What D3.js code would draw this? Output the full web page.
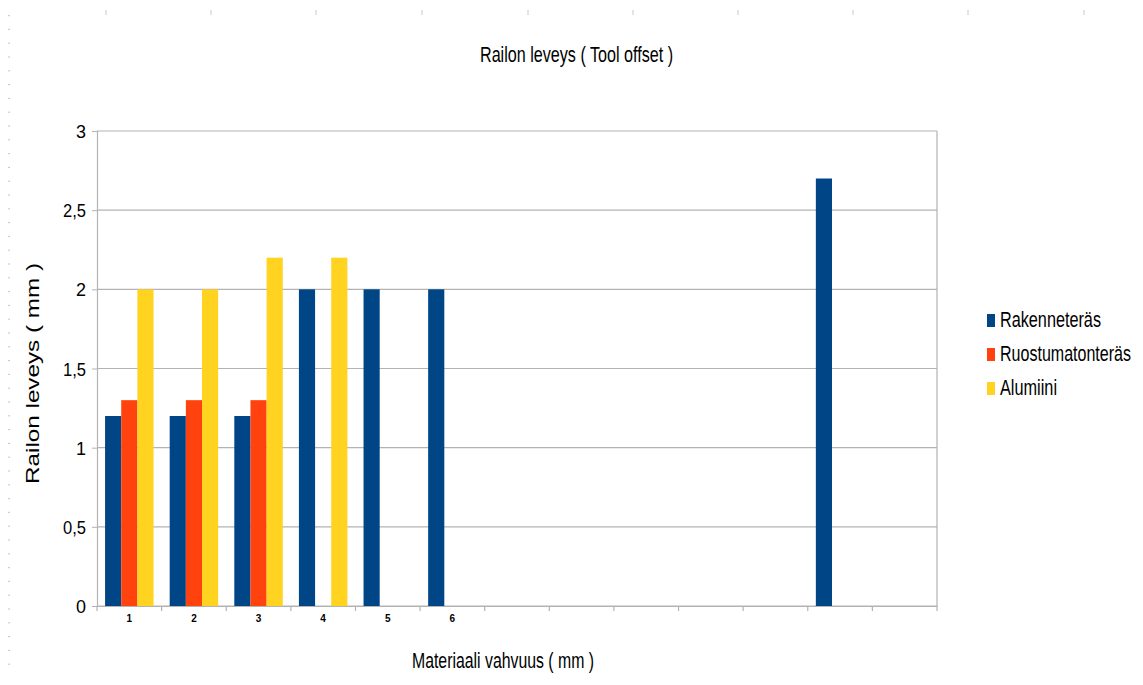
<!DOCTYPE html>
<html><head><meta charset="utf-8">
<script src="https://d3js.org/d3.v7.min.js"></script>
<style>body{margin:0;background:#fff}svg{display:block}text{font-family:"Liberation Sans",Arial,sans-serif;fill:#000}</style>
</head><body><svg id="c" width="1143" height="685"></svg>
<script>
const categories = ["1","2","3","4","5","6","7","8","9","10","11","12","13"];
const tickLabels = ["1","2","3","4","5","6","","","","","","",""];
const seriesNames = ["Rakenneteräs","Ruostumatonteräs","Alumiini"];
const rakenneteras = [1.2,1.2,1.2,2,2,2,null,null,null,null,null,2.7,null];
const ruostumatonteras = [1.3,1.3,1.3,null,null,null,null,null,null,null,null,null,null];
const alumiini = [2,2,2.2,2.2,null,null,null,null,null,null,null,null,null];
const colors = ["#004586","#ff420e","#ffd320"];
const yTicks = [0,0.5,1,1.5,2,2.5,3];

const svg = d3.select("#c");
const L=97,R=937,T=131,B=606;
const x = d3.scaleBand().domain(categories).range([L,R]).padding(0);
const bw = x.bandwidth();
const x1 = d3.scaleBand().domain(seriesNames).range([bw*0.125,bw*0.875]).padding(0);
const y = d3.scaleLinear().domain([0,3]).range([B,T]);

// decorative page ruler marks
const rulerX=[106,211,316,422,528,633,738,853,968,1084];
svg.selectAll(".rm").data(rulerX).join("line").attr("x1",d=>d).attr("x2",d=>d).attr("y1",10).attr("y2",15).attr("stroke","#c8c8c8");
svg.selectAll(".dot").data(d3.range(0,48)).join("rect").attr("x",8.5).attr("y",d=>15+d*13.8).attr("width",1.2).attr("height",1.2).attr("fill","#aaa");

// grid
svg.append("g").selectAll("line").data(yTicks).join("line")
  .attr("x1",L).attr("x2",R).attr("y1",d=>y(d)).attr("y2",d=>y(d)).attr("stroke","#b3b3b3").attr("stroke-width",1.2);
// y axis
const ya = svg.append("g").attr("transform",`translate(${L},0)`)
  .call(d3.axisLeft(y).tickValues(yTicks).tickSize(5).tickPadding(6).tickFormat(d=>String(d).replace(".",",")));
ya.select(".domain").attr("stroke","#b3b3b3").attr("stroke-width",1.2);
ya.selectAll(".tick line").attr("stroke","#b3b3b3");
ya.selectAll("text").attr("font-size",19).attr("font-family","Liberation Sans, Arial, sans-serif").attr("dy","0.35em")
  .attr("textLength",function(){return this.textContent.length>1?23:10;}).attr("lengthAdjust","spacingAndGlyphs");
// right border
svg.append("line").attr("x1",R).attr("x2",R).attr("y1",T).attr("y2",B).attr("stroke","#b3b3b3").attr("stroke-width",1.2);
// x axis
const xa = svg.append("g").attr("transform",`translate(0,${B})`)
  .call(d3.axisBottom(x).tickSize(0).tickPadding(9).tickFormat((d,i)=>tickLabels[i]));
xa.select(".domain").attr("stroke","#b3b3b3").attr("stroke-width",1.2);
xa.selectAll("text").attr("font-size",10).attr("font-family","Liberation Serif, serif").attr("font-weight","bold");
svg.append("g").selectAll("line").data(d3.range(categories.length+1)).join("line")
  .attr("x1",i=>L+i*bw).attr("x2",i=>L+i*bw).attr("y1",B).attr("y2",B+5).attr("stroke","#b3b3b3").attr("stroke-width",1.2);

// bars
const seriesData=[rakenneteras,ruostumatonteras,alumiini];
seriesData.forEach((vals,si)=>{
  svg.append("g").selectAll("rect").data(vals.map((v,i)=>({c:categories[i],v})).filter(d=>d.v!=null)).join("rect")
    .attr("x",d=>x(d.c)+x1(seriesNames[si])).attr("width",x1.bandwidth())
    .attr("y",d=>y(d.v)).attr("height",d=>B-y(d.v)).attr("fill",colors[si]);
});

// titles
svg.append("text").attr("x",480).attr("y",62).attr("font-size",22).attr("textLength",193).attr("lengthAdjust","spacingAndGlyphs").text("Railon leveys ( Tool offset )");
svg.append("text").attr("x",412).attr("y",668).attr("font-size",22).attr("textLength",182).attr("lengthAdjust","spacingAndGlyphs").text("Materiaali vahvuus ( mm )");
svg.append("text").attr("transform","translate(39,484) rotate(-90)").attr("font-size",18).attr("textLength",221).attr("lengthAdjust","spacingAndGlyphs").text("Railon leveys ( mm )");

// legend
const legY=[327,361,395], legW=[101,131,57];
seriesNames.forEach((n,i)=>{
  svg.append("rect").attr("x",987).attr("y",legY[i]-13).attr("width",8).attr("height",13).attr("fill",colors[i]);
  svg.append("g").attr("transform",`translate(1000,${legY[i]}) scale(1,1.25)`)
    .append("text").attr("x",0).attr("y",0).attr("font-size",17).attr("textLength",legW[i]).attr("lengthAdjust","spacingAndGlyphs").text(n);
});
</script></body></html>
